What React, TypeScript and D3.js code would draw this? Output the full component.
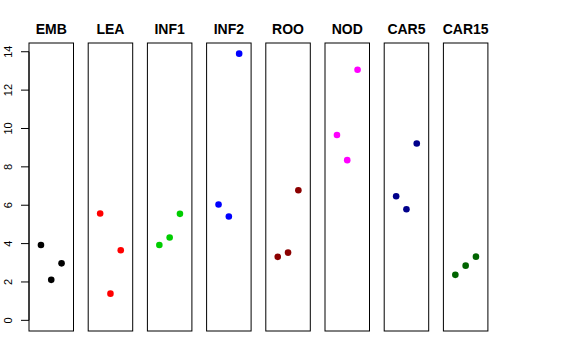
import React from "react";
import * as d3 from "d3";

const categories = ["EMB", "LEA", "INF1", "INF2", "ROO", "NOD", "CAR5", "CAR15"];
const colors = ["#000000", "#FF0000", "#00CD00", "#0000FF", "#8B0000", "#FF00FF", "#00008B", "#006400"];
const values: number[][] = [
  [3.93, 2.11, 2.97],
  [5.57, 1.39, 3.65],
  [3.93, 4.32, 5.55],
  [6.04, 5.41, 13.9],
  [3.31, 3.53, 6.78],
  [9.66, 8.35, 13.06],
  [6.47, 5.79, 9.22],
  [2.37, 2.85, 3.32],
];
const yTicks = [0, 2, 4, 6, 8, 10, 12, 14];

export default function App() {
  const W = 576, H = 360;
  const top = 43, bottom = 331;
  const left = 29, step = 59.2, bw = 44.5;
  const band = d3
    .scaleBand<string>()
    .domain(categories)
    .range([left, left + 7 * step + bw])
    .paddingInner((step - bw) / step)
    .paddingOuter(0);
  const ymax = d3.max(values.flat()) as number;
  const ext = ymax * 0.04;
  const y = d3.scaleLinear().domain([0 - ext, ymax + ext]).range([bottom, top]);
  const font = "'Liberation Sans', Arial, Helvetica, sans-serif";

  return (
    <svg width={W} height={H} style={{ position: "absolute", left: 0, top: 0 }}>
      <rect x={0} y={0} width={W} height={H} fill="#fff" />
      {/* y axis */}
      <g>
        <line x1={left} x2={left} y1={y(0)} y2={y(14)} stroke="#000" />
        {yTicks.map((t) => (
          <g key={t}>
            <line x1={left - 8} x2={left} y1={y(t)} y2={y(t)} stroke="#000" />
            <text
              transform={`translate(12.3,${y(t)}) rotate(-90)`}
              textAnchor="middle"
              fontFamily={font}
              fontSize={11}
              fill="#000"
            >
              {t}
            </text>
          </g>
        ))}
      </g>
      {categories.map((c, i) => {
        const x0 = band(c) as number;
        const x = d3.scaleLinear().domain([-0.16, 4.16]).range([x0, x0 + band.bandwidth()]);
        return (
          <g key={c}>
            <rect
              x={x0}
              y={top}
              width={band.bandwidth()}
              height={bottom - top}
              fill="none"
              stroke="#000"
              strokeWidth={1}
            />
            <text
              x={x0 + band.bandwidth() / 2}
              y={34}
              textAnchor="middle"
              fontFamily={font}
              fontWeight="bold"
              fontSize={14}
              fill="#000"
            >
              {c}
            </text>
            {values[i].map((v, j) => (
              <circle key={j} cx={x(j + 1)} cy={y(v)} r={3.3} fill={colors[i]} />
            ))}
          </g>
        );
      })}
    </svg>
  );
}
